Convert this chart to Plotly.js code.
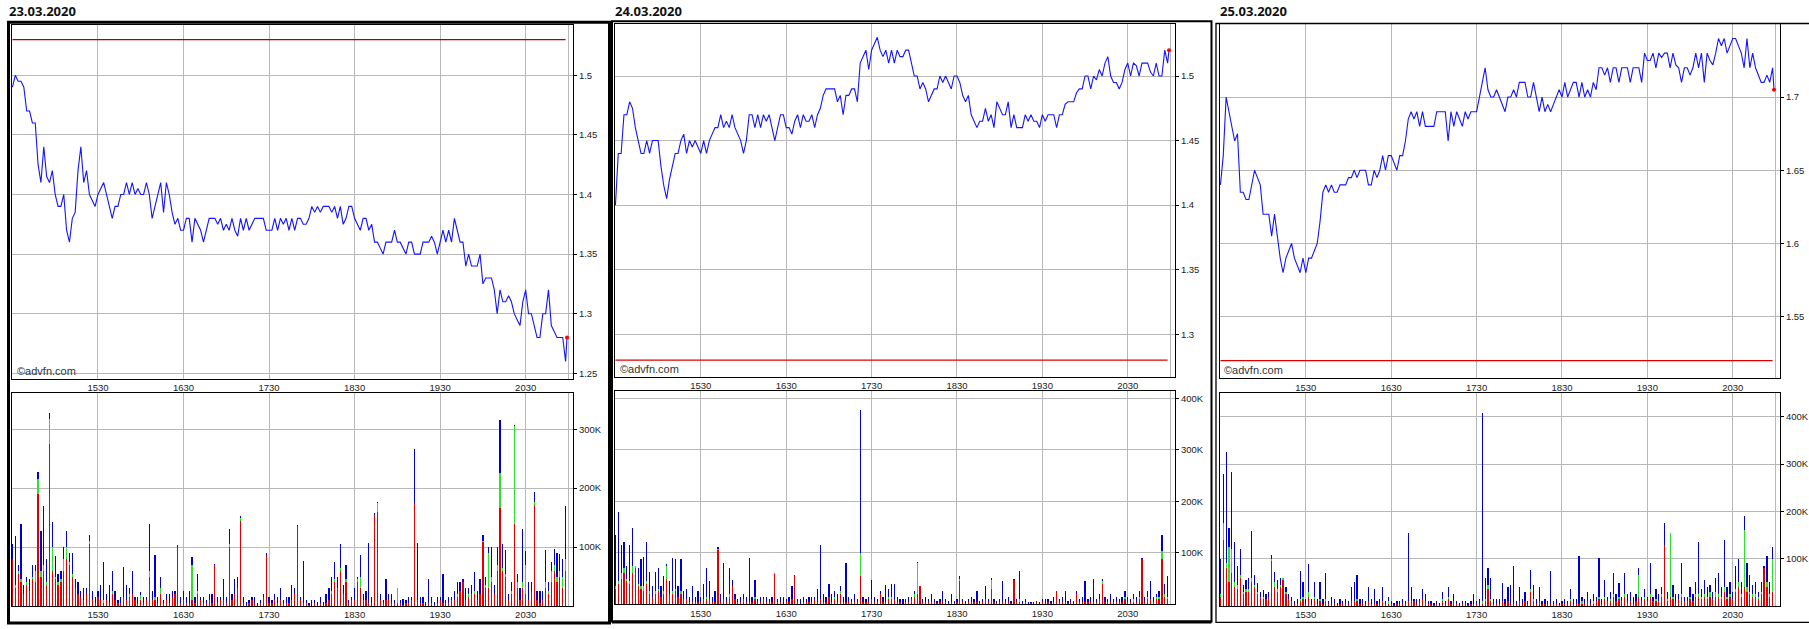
<!DOCTYPE html>
<html><head><meta charset="utf-8">
<script src="https://cdn.plot.ly/plotly-3.0.1.min.js"></script>
<style>html,body{margin:0;padding:0;background:#fff;overflow:hidden}#chart{width:1809px;height:629px}</style>
</head><body><div id="chart"></div>
<script>
// ---------- DATA ----------
const dates = ['23.03.2020', '24.03.2020', '25.03.2020'];
const timeTickVals = [60, 120, 180, 240, 300, 360, 390];   // minutes after 14:30
const timeTickText = ['1530', '1630', '1730', '1830', '1930', '2030', ''];
const sampleStep = 2;          // minutes between samples
const closeMinute = 389;       // 20:59
const prevCloseSpan = [0, 388];
const prevClose = [1.53, 1.28, 1.52];
const lastPrice = [1.28, 1.52, 1.705];

const price1 = [
1.49,1.50,1.495,1.495,1.49,1.47,1.47,1.46,1.46,1.425,
1.41,1.44,1.415,1.41,1.42,1.40,1.39,1.39,1.40,1.37,
1.36,1.38,1.385,1.42,1.44,1.41,1.42,1.40,1.395,1.39,
1.40,1.405,1.41,1.40,1.39,1.38,1.39,1.39,1.40,1.40,
1.41,1.40,1.41,1.40,1.405,1.40,1.40,1.41,1.40,1.38,
1.39,1.40,1.41,1.385,1.41,1.40,1.385,1.375,1.38,1.37,
1.37,1.38,1.38,1.36,1.38,1.375,1.37,1.36,1.37,1.38,
1.38,1.38,1.375,1.38,1.37,1.375,1.37,1.38,1.37,1.365,
1.38,1.37,1.38,1.37,1.375,1.38,1.38,1.38,1.38,1.37,
1.37,1.37,1.38,1.37,1.38,1.375,1.38,1.37,1.38,1.37,
1.38,1.38,1.375,1.375,1.38,1.39,1.385,1.39,1.385,1.39,
1.39,1.39,1.385,1.39,1.38,1.39,1.375,1.38,1.39,1.39,
1.38,1.375,1.37,1.38,1.38,1.37,1.375,1.36,1.36,1.355,
1.35,1.36,1.36,1.36,1.37,1.36,1.36,1.355,1.35,1.36,
1.36,1.35,1.35,1.35,1.36,1.36,1.36,1.365,1.36,1.35,
1.36,1.37,1.36,1.37,1.36,1.38,1.37,1.36,1.36,1.34,
1.35,1.34,1.34,1.34,1.35,1.325,1.33,1.33,1.33,1.32,
1.30,1.32,1.31,1.31,1.315,1.31,1.30,1.295,1.29,1.31,
1.32,1.30,1.30,1.29,1.28,1.28,1.30,1.30,1.32,1.29,
1.285,1.28,1.28,1.28,1.26];

const price2 = [
1.40,1.44,1.44,1.47,1.47,1.48,1.475,1.46,1.45,1.44,
1.44,1.45,1.44,1.45,1.45,1.45,1.43,1.415,1.405,1.42,
1.43,1.44,1.44,1.45,1.455,1.44,1.45,1.445,1.45,1.445,
1.44,1.45,1.44,1.45,1.455,1.46,1.46,1.47,1.46,1.465,
1.46,1.47,1.46,1.455,1.45,1.44,1.45,1.47,1.47,1.46,
1.47,1.46,1.47,1.465,1.47,1.46,1.45,1.46,1.47,1.47,
1.46,1.46,1.455,1.465,1.47,1.46,1.47,1.465,1.465,1.47,
1.46,1.47,1.475,1.485,1.49,1.49,1.49,1.49,1.48,1.485,
1.47,1.485,1.485,1.49,1.49,1.48,1.51,1.515,1.52,1.505,
1.52,1.525,1.53,1.52,1.515,1.52,1.51,1.52,1.51,1.52,
1.515,1.515,1.52,1.52,1.51,1.50,1.50,1.49,1.495,1.49,
1.48,1.485,1.49,1.49,1.50,1.495,1.50,1.495,1.49,1.50,
1.50,1.495,1.485,1.48,1.485,1.47,1.465,1.46,1.465,1.465,
1.475,1.465,1.47,1.46,1.48,1.475,1.47,1.47,1.48,1.46,
1.47,1.46,1.46,1.46,1.47,1.465,1.47,1.465,1.465,1.46,
1.47,1.465,1.47,1.47,1.47,1.46,1.47,1.47,1.478,1.48,
1.48,1.48,1.487,1.49,1.49,1.50,1.50,1.49,1.50,1.497,
1.505,1.50,1.51,1.515,1.50,1.495,1.495,1.49,1.495,1.505,
1.51,1.50,1.51,1.508,1.50,1.51,1.51,1.51,1.503,1.50,
1.51,1.50,1.50,1.52,1.51];

const price3 = [
1.64,1.66,1.70,1.69,1.68,1.67,1.675,1.635,1.635,1.63,
1.63,1.64,1.65,1.645,1.64,1.62,1.62,1.62,1.605,1.62,
1.605,1.59,1.58,1.59,1.595,1.60,1.59,1.585,1.58,1.59,
1.58,1.59,1.59,1.595,1.60,1.615,1.635,1.64,1.635,1.64,
1.635,1.635,1.64,1.64,1.64,1.645,1.645,1.65,1.645,1.65,
1.65,1.65,1.64,1.64,1.65,1.645,1.65,1.66,1.65,1.66,
1.66,1.655,1.65,1.66,1.66,1.67,1.685,1.69,1.685,1.69,
1.68,1.69,1.68,1.68,1.68,1.68,1.69,1.69,1.69,1.69,
1.67,1.69,1.68,1.69,1.685,1.68,1.69,1.685,1.69,1.69,
1.69,1.70,1.71,1.72,1.705,1.70,1.70,1.705,1.70,1.695,
1.69,1.70,1.70,1.705,1.70,1.71,1.71,1.71,1.70,1.70,
1.71,1.70,1.69,1.70,1.69,1.695,1.69,1.695,1.70,1.705,
1.70,1.71,1.70,1.705,1.71,1.71,1.70,1.71,1.70,1.705,
1.70,1.71,1.705,1.72,1.72,1.715,1.72,1.71,1.72,1.72,
1.71,1.72,1.72,1.72,1.71,1.72,1.72,1.72,1.71,1.73,
1.725,1.725,1.73,1.72,1.73,1.727,1.73,1.73,1.72,1.73,
1.722,1.72,1.71,1.72,1.72,1.715,1.72,1.73,1.72,1.73,
1.71,1.73,1.725,1.722,1.73,1.74,1.735,1.74,1.73,1.735,
1.74,1.74,1.735,1.73,1.72,1.74,1.72,1.73,1.72,1.715,
1.71,1.71,1.715,1.71,1.72];

// volume in thousands, stacked: sell (red, bottom), unknown (green), buy (blue, top)
const volRed1 = [
80,30,55,40,20,35,25,45,40,190, 50,60,35,275,60,45,35,40,60,80,
70,50,30,20,15,10,20,105,10,5, 15,10,5,10,5,20,10,5,5,15,
10,15,20,10,5,10,5,10,50,10, 10,5,20,5,10,5,15,20,100,5,
10,5,5,10,5,20,10,5,5,10, 5,70,5,10,10,5,100,10,20,30,
145,5,2,5,10,5,0,5,15,85, 5,5,10,5,10,5,5,5,10,20,
135,10,5,5,2,0,5,2,5,2, 5,10,20,40,30,60,20,40,5,10,
10,40,30,10,10,5,5,155,160,10, 5,10,10,5,5,5,5,2,5,5,
10,175,10,5,5,2,5,5,2,5, 10,5,5,5,10,10,15,25,40,10,
15,20,20,10,20,108,30,30,40,20, 60,167,60,50,10,20,140,30,10,30,
20,10,25,172,10,5,10,30,20,40, 60,40,50,30,60];
const volGreen1 = [
0,5,5,5,0,5,0,5,20,25, 10,10,5,43,40,5,5,5,20,20,
5,5,0,0,0,0,0,5,0,0, 0,0,5,0,0,5,0,0,0,0,
0,5,0,0,0,8,0,0,10,0, 5,0,10,0,0,0,0,0,0,0,
0,0,0,60,0,5,0,0,0,0, 0,0,0,0,0,0,5,0,0,0,
5,0,0,0,0,0,0,0,0,0, 0,0,0,0,0,0,0,0,0,0,
0,0,0,0,0,0,0,0,0,0, 0,0,5,5,0,5,0,5,0,0,
0,5,20,0,0,0,0,0,15,0, 0,0,0,0,0,25,0,0,0,0,
0,0,0,0,0,0,0,0,0,0, 0,0,0,0,0,0,5,0,0,0,
5,0,5,0,0,2,5,60,10,0, 10,58,5,5,0,5,165,10,0,10,
50,0,0,5,0,0,0,10,5,20, 10,10,10,20,20];
const volBlue1 = [
25,83,10,95,15,10,20,20,10,13, 67,100,40,10,43,35,15,15,20,27,
15,35,15,20,10,20,10,10,15,10, 10,25,65,10,30,35,15,5,10,52,
25,10,40,5,10,5,10,5,80,15, 72,10,20,5,10,15,10,5,4,10,
15,10,20,13,10,30,5,10,5,10, 15,2,10,5,35,10,25,10,25,20,
2,10,5,5,5,10,5,5,5,5, 10,5,10,10,20,5,10,10,25,10,
2,5,72,5,3,10,5,5,10,5, 15,20,25,30,20,41,15,25,5,5,
20,5,37,10,15,102,10,2,2,10, 5,35,10,15,5,0,5,10,5,10,
5,91,97,10,10,5,40,10,5,10, 5,50,5,10,5,15,20,15,5,20,
10,15,33,15,25,10,15,10,50,15, 30,90,40,40,10,15,2,15,20,90,
23,30,15,16,15,20,15,55,15,15, 27,40,28,30,90];

const volRed2 = [
30,40,50,60,45,40,60,70,35,30, 25,40,20,15,20,25,15,20,50,20,
20,25,15,20,10,10,5,5,5,5, 5,10,10,10,5,5,105,5,10,5,
15,35,10,5,5,10,5,5,5,10, 5,5,10,5,5,5,58,5,5,0,
5,5,10,55,5,0,5,5,5,5, 10,5,10,5,5,15,5,10,5,20,
5,5,5,5,5,5,55,5,5,5, 10,5,5,20,5,5,10,10,10,5,
5,0,5,5,10,15,20,35,5,5, 5,5,5,2,5,5,5,2,5,2,
5,45,5,2,5,5,5,5,2,5, 10,5,30,5,2,5,5,5,5,2,
48,5,5,2,5,0,2,0,5,0, 5,2,5,2,5,25,5,5,5,2,
5,2,20,5,5,5,5,5,5,5, 10,40,5,5,5,5,5,5,5,10,
5,5,5,5,10,88,5,10,10,5, 10,10,88,15,10];
const volGreen2 = [
5,5,10,10,5,5,15,5,5,5, 10,5,5,0,5,5,0,5,25,0,
5,5,0,5,0,0,0,0,0,0, 0,0,5,0,0,0,2,0,0,0,
5,0,0,0,0,0,0,0,0,5, 0,0,0,0,0,0,2,0,0,0,
0,0,0,0,0,0,0,0,0,0, 0,0,0,0,0,0,0,5,0,5,
0,0,0,0,0,0,45,0,0,0, 0,0,0,0,0,0,5,5,0,0,
0,0,0,0,0,5,60,0,0,0, 0,0,0,0,0,0,0,0,0,0,
0,5,0,0,0,0,0,0,0,0, 0,0,17,0,0,0,0,0,0,0,
0,0,5,0,0,0,0,0,0,0, 0,0,0,0,0,0,0,0,0,0,
0,0,0,0,0,0,0,0,0,0, 0,5,0,0,0,0,0,0,0,5,
0,0,5,0,5,0,0,5,0,0, 5,5,15,5,5];
const volBlue2 = [
100,135,55,50,25,70,73,0,30,53, 57,75,38,20,38,40,20,30,3,25,
65,58,20,63,15,20,10,30,10,20, 10,30,55,35,10,20,5,15,70,10,
50,13,10,5,10,10,10,85,10,33, 5,10,5,10,5,10,0,5,10,15,
5,10,25,2,5,10,10,5,10,10, 5,25,105,15,10,25,15,10,15,10,
10,75,10,5,15,5,277,10,5,10, 37,10,5,5,10,33,15,25,30,10,
5,10,5,10,5,5,3,0,5,10, 5,15,5,5,5,20,5,5,15,5,
5,5,5,5,5,10,5,20,5,5, 25,5,5,5,5,5,40,5,10,5,
2,5,55,5,5,5,3,5,2,5, 5,8,5,5,10,0,5,10,20,5,
5,5,5,5,10,40,5,10,45,5, 10,5,10,5,15,5,10,5,10,10,
10,5,10,10,10,2,10,10,35,10, 5,10,32,20,40];

const volRed3 = [
20,140,80,50,70,40,35,60,25,30, 30,50,40,25,20,15,15,20,95,40,
30,40,55,25,15,10,5,5,10,15, 5,20,5,15,5,10,5,10,5,5,
5,2,5,5,5,5,10,10,10,5, 5,5,10,5,5,5,5,10,5,5,
5,2,5,5,5,5,10,10,10,5, 10,15,10,5,5,2,5,2,10,5,
15,5,10,5,2,5,5,2,5,5, 5,5,5,10,35,10,5,5,5,10,
5,10,5,5,5,10,5,10,5,30, 10,5,10,5,5,5,5,5,5,2,
5,5,5,10,5,5,5,5,5,10, 5,5,10,15,5,15,10,10,20,10,
15,10,20,10,10,5,10,20,10,15, 10,20,10,10,10,20,130,10,20,15,
10,15,20,10,10,15,10,20,20,15, 20,15,20,15,20,20,15,30,15,20,
15,30,40,20,40,30,25,20,20,15, 25,80,40,20,30];
const volGreen3 = [
5,35,10,75,50,10,10,5,5,5, 5,10,5,5,0,5,0,0,5,10,
5,5,5,5,0,0,0,0,5,5, 0,10,0,5,0,5,0,5,0,0,
0,0,0,0,0,0,0,0,5,0, 0,0,0,0,0,0,0,0,0,5,
0,0,0,0,0,0,0,0,0,0, 0,0,0,0,0,0,0,0,5,0,
5,0,0,0,0,0,0,0,0,0, 0,0,5,5,10,5,0,0,0,0,
0,0,0,0,0,0,0,0,0,5, 5,0,0,0,0,0,0,0,0,0,
0,0,0,5,0,0,0,5,0,0, 0,5,0,5,0,5,0,5,5,0,
5,0,5,0,0,0,0,45,0,5, 0,5,0,5,0,5,0,5,135,5,
0,0,5,0,0,5,0,5,5,5, 5,5,10,0,10,5,5,10,5,5,
0,5,10,5,120,10,5,5,5,5, 5,0,10,5,70];
const volBlue3 = [
75,105,236,40,163,85,40,55,15,20, 25,98,20,18,10,13,10,10,7,22,
20,15,0,10,10,10,5,10,59,30, 10,58,10,30,10,35,10,55,5,15,
10,5,10,5,10,5,30,40,50,10, 10,5,30,10,30,5,10,30,5,10,
5,5,5,5,10,5,145,30,5,10, 5,20,15,5,5,5,5,5,15,5,
20,5,15,5,5,5,5,5,5,20, 5,10,398,45,35,45,10,10,10,38,
10,30,40,80,5,30,10,20,5,42, 30,10,30,5,10,5,70,5,10,5,
5,10,5,20,10,10,100,10,10,20, 10,15,10,82,10,35,10,15,45,15,
28,10,45,15,20,15,15,15,10,15, 10,65,10,20,15,15,45,15,0,25,
15,10,65,10,10,20,15,25,110,15, 30,20,15,15,30,45,20,100,20,25,
15,50,50,25,30,50,35,20,25,10, 20,5,55,25,25];

const prices = [price1, price2, price3];
const vols = [[volRed1, volGreen1, volBlue1], [volRed2, volGreen2, volBlue2], [volRed3, volGreen3, volBlue3]];
const volTickVals = [[100, 200, 300], [100, 200, 300, 400], [100, 200, 300, 400]];

// ---------- LAYOUT (pixel geometry of the page) ----------
const W = 1809, H = 629;
const fx = v => v / W, fy = v => 1 - v / H;
const geo = [
  {x0: 12,   x1: 573,  pT: 25,   pB: 379,   vT: 393.3, vB: 606,   pR: [1.2452, 1.5422], vR: [0, 361],
   frame: [8.5, 22.3, 609.5, 623], fw: 3, tx: 7, ax: 15, ay: 371},
  {x0: 615,  x1: 1175, pT: 23.7, pB: 377,   vT: 391,   vB: 604.3, pR: [1.2669, 1.5405], vR: [0, 414],
   frame: [612, 21.2, 1211.5, 621.5], fw: 2, tx: 613, ax: 618, ay: 368.5},
  {x0: 1220, x1: 1780, pT: 24.3, pB: 378.3, vT: 392.7, vB: 606,   pR: [1.5079, 1.7497], vR: [0, 451],
   frame: [1216, 23.5, 1815, 622.3], fw: 1.3, tx: 1218, ax: 1222, ay: 370}
];
const xRange = [-0.3, 393.2];
const tickFont = {family: 'Liberation Sans, Arial, sans-serif', size: 9.5, color: '#222'};
const gridGrey = '#b8b8b8';

const data = [];
const layout = {
  width: W, height: H, margin: {l: 0, r: 0, t: 0, b: 0}, autosize: false,
  paper_bgcolor: '#fff', plot_bgcolor: '#fff', showlegend: false,
  barmode: 'stack', bargap: 0, hovermode: false,
  shapes: [], annotations: []
};

geo.forEach((g, k) => {
  const n = 2 * k + 1, m = 2 * k + 2;
  const xa = 'x' + (n === 1 ? '' : n), ya = 'y' + (n === 1 ? '' : n);
  const xb = 'x' + m, yb = 'y' + m;
  const xCommon = {
    domain: [fx(g.x0), fx(g.x1)], range: xRange, tickmode: 'array',
    tickvals: timeTickVals, ticktext: timeTickText, ticks: '', showgrid: true,
    gridcolor: gridGrey, gridwidth: 1, showline: true, linecolor: '#000', linewidth: 1,
    mirror: true, zeroline: false, tickfont: tickFont, fixedrange: true
  };
  layout['xaxis' + (n === 1 ? '' : n)] = Object.assign({}, xCommon, {anchor: ya});
  layout['xaxis' + m] = Object.assign({}, xCommon, {anchor: yb});
  layout['yaxis' + (n === 1 ? '' : n)] = {
    domain: [fy(g.pB), fy(g.pT)], range: g.pR, anchor: xa, side: 'right',
    tickmode: 'linear', tick0: 0, dtick: 0.05, ticks: 'outside', ticklen: 3, tickcolor: '#000',
    showgrid: true, gridcolor: gridGrey, showline: true, linecolor: '#000',
    linewidth: 1, mirror: true, zeroline: false, tickfont: tickFont, fixedrange: true
  };
  layout['yaxis' + m] = {
    domain: [fy(g.vB), fy(g.vT)], range: g.vR, anchor: xb, side: 'right',
    tickmode: 'array', tickvals: volTickVals[k], ticktext: volTickVals[k].map(v => v + 'K'),
    ticks: 'outside', ticklen: 3, tickcolor: '#000',
    showgrid: true, gridcolor: gridGrey, showline: true, linecolor: '#000',
    linewidth: 1, mirror: true, zeroline: false, tickfont: tickFont, fixedrange: true
  };

  const pr = prices[k];
  const t = pr.map((_, i) => i * sampleStep);
  // previous close
  data.push({type: 'scatter', mode: 'lines', x: prevCloseSpan, y: [prevClose[k], prevClose[k]],
    xaxis: xa, yaxis: ya, line: {color: k === 0 ? '#b00000' : '#e00000', width: 1.2}});
  // price line
  data.push({type: 'scatter', mode: 'lines', x: t.concat([closeMinute]), y: pr.concat([lastPrice[k]]),
    xaxis: xa, yaxis: ya, line: {color: '#1414ff', width: 1.1}});
  // last price dot
  data.push({type: 'scatter', mode: 'markers', x: [closeMinute], y: [lastPrice[k]],
    xaxis: xa, yaxis: ya, marker: {color: '#ff0000', size: 4}});
  // volume bars
  const cols = ['#e00000', '#30e030', '#0000cc'];
  vols[k].forEach((arr, j) => {
    data.push({type: 'bar', x: arr.map((_, i) => i * sampleStep), y: arr, width: 0.85,
      xaxis: xb, yaxis: yb, marker: {color: cols[j], line: {width: 0}}});
  });

  // frame
  layout.shapes.push({type: 'rect', xref: 'paper', yref: 'paper',
    x0: fx(g.frame[0]), x1: fx(g.frame[2]), y0: fy(g.frame[3]), y1: fy(g.frame[1]),
    line: {color: '#000', width: g.fw}, fillcolor: 'rgba(0,0,0,0)'});
  if (k === 1) {
    layout.shapes.push({type: 'line', xref: 'paper', yref: 'paper',
      x0: fx(g.frame[0]), x1: fx(g.frame[2]), y0: fy(g.frame[3] + 0.5), y1: fy(g.frame[3] + 0.5),
      line: {color: '#000', width: 3}});
  }
  // date title
  layout.annotations.push({xref: 'paper', yref: 'paper', x: fx(g.tx), y: fy(11), xanchor: 'left',
    yanchor: 'middle', showarrow: false, text: '<b>' + dates[k] + '</b>',
    font: {family: 'Open Sans, sans-serif', size: 13, color: '#111'}});
  // watermark
  layout.annotations.push({xref: 'paper', yref: 'paper', x: fx(g.ax), y: fy(g.ay), xanchor: 'left',
    yanchor: 'middle', showarrow: false, text: '©advfn.com',
    font: {family: 'Liberation Sans, Arial, sans-serif', size: 11, color: '#333'}});
});

Plotly.newPlot('chart', data, layout, {staticPlot: true, displayModeBar: false});
</script>
</body></html>
